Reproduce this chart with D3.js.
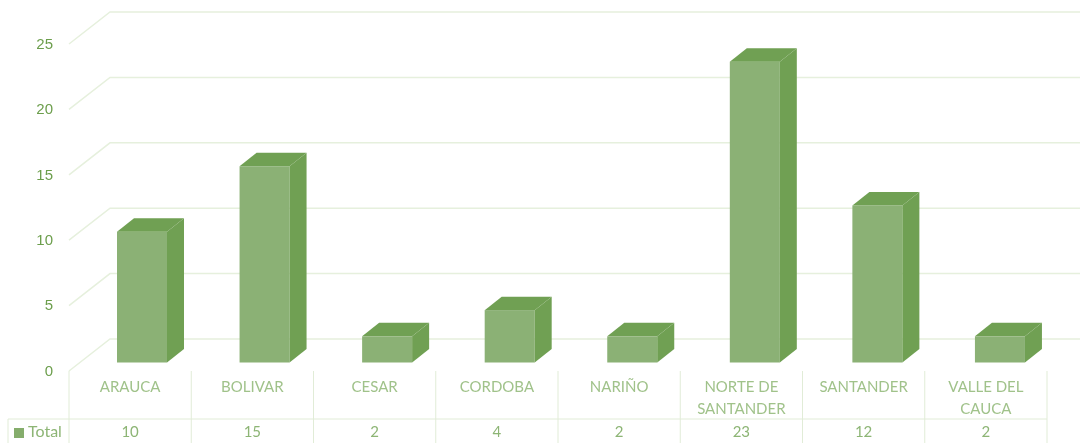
<!DOCTYPE html>
<html>
<head>
<meta charset="utf-8">
<script src="https://cdn.jsdelivr.net/npm/d3@7"></script>
<style>
  html, body { margin: 0; padding: 0; background: #fff; overflow: hidden; }
  svg { display: block; font-family: Lato, "Open Sans", sans-serif; }
</style>
</head>
<body>
<div id="chart"></div>
<script>
// Values
const categories = ["ARAUCA", "BOLIVAR", "CESAR", "CORDOBA", "NARIÑO", "NORTE DE SANTANDER", "SANTANDER", "VALLE DEL CAUCA"]
const categoryLines = [["ARAUCA"], ["BOLIVAR"], ["CESAR"], ["CORDOBA"], ["NARIÑO"], ["NORTE DE", "SANTANDER"], ["SANTANDER"], ["VALLE DEL", "CAUCA"]]
const totals = [10, 15, 2, 4, 2, 23, 12, 2]
const yTicks = [0, 5, 10, 15, 20, 25]
const seriesName = "Total"

const WIDTH = 1080
const HEIGHT = 443
const PLOT = {LEFT:69, RIGHT:1047, TOP:44, BOTTOM:371}
const WALL = {DX:41, DY:-32}        // front floor edge to the back wall
const BAR = {WIDTH:50, LEFT:117, RIGHT:1097.5, DX:17, DY:-13.5, SINK:-8.5}
const TABLE = {LEFT:8, ROW:419, BOTTOM:443}

const COLORS = {grid:"#e6f0dd", table:"#e1ecd7", front:"#8bb175", side:"#70a053", top:"#70a053", tick:"#6c9e4c", label:"#a0c28a", value:"#8db575", key:"#85ad6c"}

let svg = d3.select("#chart").append("svg")
    .attr("width", WIDTH)
    .attr("height", HEIGHT)
    .style("filter", "blur(0.45px)")

let xScale = d3.scaleBand()
    .domain(categories)
    .range([PLOT.LEFT, PLOT.RIGHT])

// The bars sit on a slightly wider pitch than the table columns
let barScale = d3.scaleBand()
    .domain(categories)
    .range([BAR.LEFT, BAR.RIGHT])

let yScale = d3.scaleLinear()
    .domain([0, 25])
    .range([PLOT.BOTTOM, PLOT.TOP])

// Back wall lines and the diagonal side wall lines
svg.append("g").selectAll("path")
    .data(yTicks)
    .enter()
    .append("path")
    .attr("d", d => "M" + PLOT.LEFT + "," + yScale(d) + "L" + (PLOT.LEFT + WALL.DX) + "," + (yScale(d) + WALL.DY) + "H" + WIDTH)
    .attr("fill", "none")
    .attr("stroke", COLORS.grid)
    .attr("stroke-width", 1.5)

// Table lines under the plot
let table = svg.append("g").attr("stroke", COLORS.table).attr("fill", "none")
table.append("line")
    .attr("x1", TABLE.LEFT).attr("x2", PLOT.RIGHT)
    .attr("y1", TABLE.ROW).attr("y2", TABLE.ROW)
table.append("line")
    .attr("x1", TABLE.LEFT).attr("x2", TABLE.LEFT)
    .attr("y1", TABLE.ROW).attr("y2", TABLE.BOTTOM)
table.selectAll(".sep")
    .data(categories.concat(["end"]))
    .enter()
    .append("line")
    .attr("class", "sep")
    .attr("x1", (d, i) => d == "end" ? PLOT.RIGHT : xScale(d))
    .attr("x2", (d, i) => d == "end" ? PLOT.RIGHT : xScale(d))
    .attr("y1", PLOT.BOTTOM)
    .attr("y2", TABLE.BOTTOM)

// Bars: a front, a side and a top for each category
let barX = (d, i) => barScale(categories[i])
let baseY = yScale(0) + BAR.SINK
let topY = d => yScale(d) + BAR.SINK

let bars = svg.append("g").selectAll("g")
    .data(totals)
    .enter()
    .append("g")

bars.append("rect")
    .attr("x", barX)
    .attr("y", d => topY(d))
    .attr("width", BAR.WIDTH)
    .attr("height", d => baseY - topY(d))
    .attr("fill", COLORS.front)

bars.append("path")
    .attr("d", (d, i) => {
        let x = barX(d, i) + BAR.WIDTH
        return "M" + x + "," + topY(d) + "l" + BAR.DX + "," + BAR.DY + "V" + (baseY + BAR.DY) + "L" + x + "," + baseY + "Z"
    })
    .attr("fill", COLORS.side)

bars.append("path")
    .attr("d", (d, i) => {
        let x = barX(d, i)
        return "M" + x + "," + topY(d) + "l" + BAR.DX + "," + BAR.DY + "h" + BAR.WIDTH + "l" + (-BAR.DX) + "," + (-BAR.DY) + "Z"
    })
    .attr("fill", COLORS.top)

// Y axis numbers
let yAxis = svg.append("g")
    .attr("transform", "translate(" + (PLOT.LEFT - 16) + ",-0.5)")
    .call(d3.axisLeft(yScale).tickValues(yTicks).tickSize(0).tickPadding(0))
yAxis.select(".domain").remove()
yAxis.selectAll("text")
    .attr("fill", COLORS.tick)
    .style("font-size", "15px")

// Category labels, wrapped as in the picture
svg.append("g").selectAll("text")
    .data(categories)
    .enter()
    .append("text")
    .attr("text-anchor", "middle")
    .attr("fill", COLORS.label)
    .style("font-size", "15px")
    .selectAll("tspan")
    .data((d, i) => categoryLines[i].map((line, j) => ({line:line, j:j, cat:d})))
    .enter()
    .append("tspan")
    .attr("x", d => xScale(d.cat) + xScale.bandwidth() / 2)
    .attr("y", d => 392 + d.j * 22)
    .text(d => d.line)

// Values row
svg.append("g").selectAll("text")
    .data(totals)
    .enter()
    .append("text")
    .attr("x", (d, i) => xScale(categories[i]) + xScale.bandwidth() / 2)
    .attr("y", 437)
    .attr("text-anchor", "middle")
    .attr("fill", COLORS.value)
    .style("font-size", "15px")
    .text(d => d)

// Legend key in the table
svg.append("rect")
    .attr("x", 14).attr("y", 428)
    .attr("width", 10).attr("height", 10)
    .attr("fill", COLORS.key)
svg.append("text")
    .attr("x", 28).attr("y", 437)
    .attr("fill", COLORS.value)
    .style("font-size", "16px")
    .text(seriesName)
</script>
</body>
</html>
